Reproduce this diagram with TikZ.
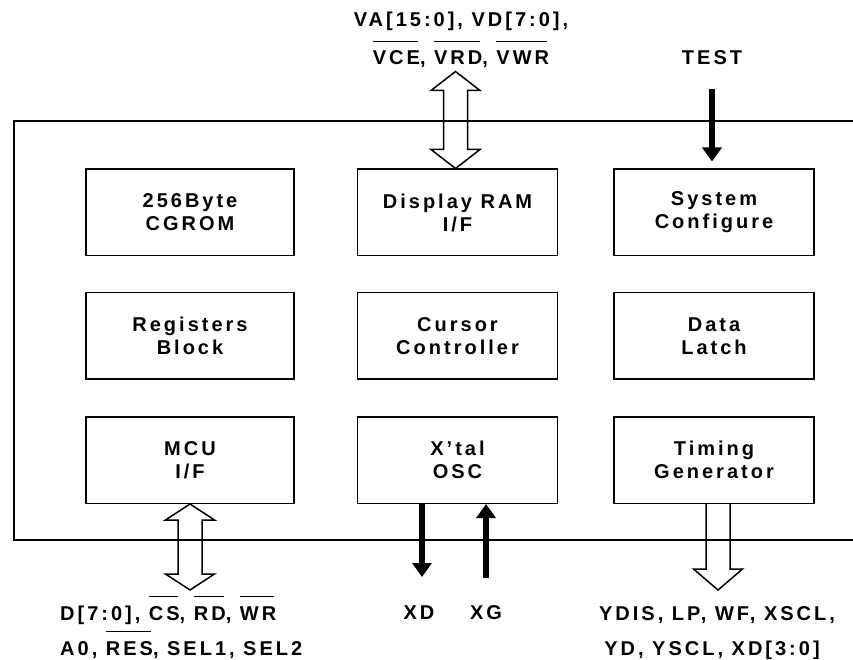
\documentclass[tikz,border=0pt]{standalone}
\usepackage{fontspec}
\setmainfont{Liberation Sans}[LetterSpace=15]
\usetikzlibrary{arrows.meta,positioning}
\newcommand\nbar[1]{\setbox0\hbox{#1}\rlap{\rule[23pt]{\dimexpr\wd0-2pt\relax}{1.4pt}}\box0}

\begin{document}
\begin{tikzpicture}
  [
    x = 1pt, y = 1pt,
    every node/.style = {font=\fontsize{20}{23}\selectfont\bfseries},
    block/.style = {draw, line width=1.5pt, minimum width=200pt, minimum height=86.5pt, align=center, inner sep=0pt},
    bus/.style = {draw, line width=1.5pt, line join=miter},
    signal/.style = {line width=6pt, -{Triangle[length=14pt,width=19pt]}},
    pin label/.style = {anchor=base, inner sep=0pt},
  ]

  \useasboundingbox (0,0) rectangle (853,659);
  \draw [line width=2pt] (853,538) -- (14,538) -- (14,119) -- (853,119);

  \node (cgrom)   [block, minimum width=208pt] at (190,446.5) {256Byte\\CGROM};
  \node (dram)    [block] at (457.5,446.5) {Display RAM\\I/F};
  \node (sysconf) [block] at (714,446.5)   {System\\Configure};
  \node (regs)    [block, minimum width=208pt] at (190,323) {Registers\\Block};
  \node (cursor)  [block] at (457.5,323)   {Cursor\\Controller};
  \node (latch)   [block] at (714,323)     {Data\\Latch};
  \node (mcu)     [block, minimum width=208pt] at (190,199) {MCU\\I/F};
  \node (osc)     [block] at (457.5,199)   {X’tal\\OSC};
  \node (timing)  [block] at (714,199)     {Timing\\Generator};

  \draw [bus] ([xshift=-2pt]dram.north) -- ++(-24.5,19) -- ++(12.5,0) -- ++(0,59) -- ++(-12.5,0) -- ++(24.5,19)
    -- ++(24.5,-19) -- ++(-12.5,0) -- ++(0,-59) -- ++(12.5,0) -- cycle;
  \draw [bus] (mcu.south) -- ++(-24.5,-16) -- ++(12.5,0) -- ++(0,-54) -- ++(-12.5,0) -- ++(24.5,-16)
    -- ++(24.5,16) -- ++(-12.5,0) -- ++(0,54) -- ++(12.5,0) -- cycle;
  \draw [bus] ([xshift=-8pt]timing.south) -- ++(0,-65) -- ++(-12.5,0) -- ++(24.5,-21) -- ++(24.5,21) -- ++(-12.5,0) -- ++(0,65);

  \coordinate (test) at (712,570);
  \coordinate (xd)   at (422,82);
  \coordinate (xg)   at (486,81);
  \draw [signal, shorten >=7pt] (test) -- (test |- sysconf.north);
  \draw [signal] (osc.south -| xd) -- (xd);
  \draw [signal] (xg) -- (osc.south -| xg);

  \node (vbus a)     [pin label] at (461,632) {VA[15:0], VD[7:0],};
  \node (vbus b)     [pin label] at (461,594) {\nbar{VCE}, \nbar{VRD}, \nbar{VWR}};
  \node (test label) [pin label] at (712,594) {TEST};
  \node (mcu a)      [pin label, anchor=base west] at (60,39) {D[7:0], \nbar{CS}, \nbar{RD}, \nbar{WR}};
  \node (mcu b)      [pin label, anchor=base west] at (60,4)  {A0, \nbar{RES}, SEL1, SEL2};
  \node (xd label)   [pin label] at (419,40) {XD};
  \node (xg label)   [pin label] at (486,40) {XG};
  \node (lcd a)      [pin label] at (717,39) {YDIS, LP, WF, XSCL,};
  \node (lcd b)      [pin label] at (712,4)  {YD, YSCL, XD[3:0]};

\end{tikzpicture}
\end{document}
